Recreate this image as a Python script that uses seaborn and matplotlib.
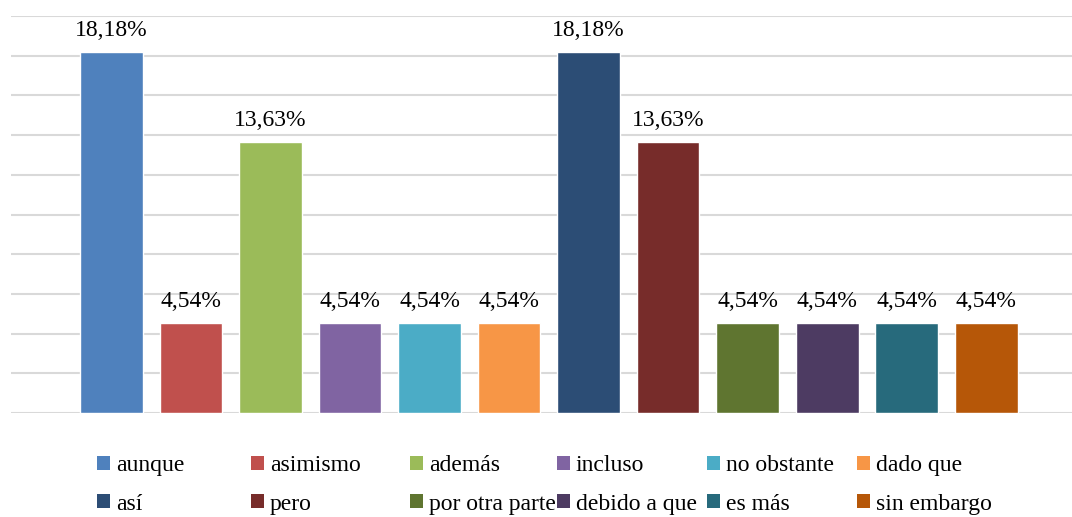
import numpy as np
import pandas as pd
import seaborn as sns
import matplotlib.pyplot as plt
from matplotlib.patches import Patch

# DATA

conectores = ['aunque', 'asimismo', 'además', 'incluso', 'no obstante', 'dado que',
              'así', 'pero', 'por otra parte', 'debido a que', 'es más', 'sin embargo']
porcentajes = [18.18, 4.54, 13.63, 4.54, 4.54, 4.54,
               18.18, 13.63, 4.54, 4.54, 4.54, 4.54]
colores = ['#4F81BD', '#C0504D', '#9BBB59', '#8064A2', '#4BACC6', '#F79646',
           '#2C4D75', '#772C2A', '#5F7530', '#4D3B62', '#276A7C', '#B65708']

df = pd.DataFrame({'conector': conectores, 'pct': porcentajes})

sns.set_style('white')
plt.rcParams['font.family'] = 'serif'
plt.rcParams['font.serif'] = ['Liberation Serif', 'DejaVu Serif']
plt.rcParams['text.color'] = 'black'

fig = plt.figure(figsize=(10.72, 5.17), dpi=100)
ax = fig.add_axes([11 / 1072, 1 - 413 / 517, 1 - 11 / 1072, (413 - 16) / 517])

sns.barplot(data=df, x='conector', y='pct', hue='conector', order=conectores,
            hue_order=conectores, palette=colores, saturation=1, width=0.79,
            legend=False, ax=ax)

# labels on top of bars, comma decimals
for i, v in enumerate(porcentajes):
    ax.annotate(f'{v:.2f}%'.replace('.', ','), (i, v), xytext=(0, 8),
                textcoords='offset points', ha='center', va='bottom',
                fontsize=17, color='black')

ax.set_ylim(0, 20)
ax.set_xlim(-1.264, 12.08)
ax.set_yticks(np.arange(0, 21, 2))
ax.yaxis.grid(True, color='#d9d9d9', linewidth=1.5)
ax.set_axisbelow(True)
ax.set_yticklabels([])
ax.set_xticks([])
ax.set_xlabel('')
ax.set_ylabel('')
for s in ax.spines.values():
    s.set_visible(False)
ax.tick_params(length=0)

# legend: 6 columns, 2 rows, fixed column positions like Excel
col_x = [97, 251, 410, 557, 707, 857]
for j, x in enumerate(col_x):
    idx = [j, j + 6]
    handles = [Patch(facecolor=colores[k], edgecolor='none') for k in idx]
    fig.legend(handles, [conectores[k] for k in idx], loc='center left',
               bbox_to_anchor=(x / 1072, 1 - 485 / 517), frameon=False,
               fontsize=17, handlelength=0.55, handleheight=0.55,
               handletextpad=0.25, labelspacing=0.74, borderpad=0,
               borderaxespad=0, labelcolor='black')

plt.savefig('out.png', dpi=100)
